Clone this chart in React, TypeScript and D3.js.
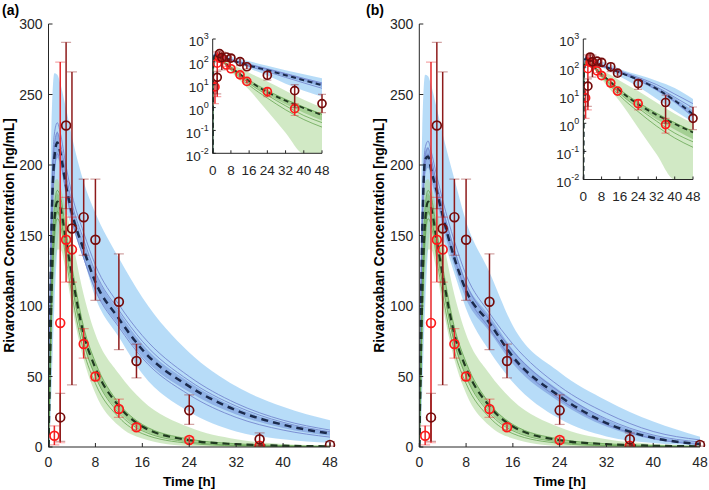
import React from 'react';
import * as d3 from 'd3';

// sampling times of the simulated curves [h]
const simTimes = [0, 0.25, 0.5, 1, 1.5, 2, 3, 4, 6, 8, 12, 16, 24, 32, 40, 48];

// ---- panel (a), blue model (dark red data) ----
const aBlueMedian = [0, 85, 150, 205, 216, 209, 185, 166, 140, 117, 91, 69, 43, 26, 15.8, 9.5];
const aBlueMidLo = [0, 60, 130, 190, 205, 200, 178, 160, 133, 111, 86, 64, 39, 23, 13.5, 8];
const aBlueMidHi = [0, 100, 165, 215, 224, 216, 192, 172, 145, 123, 96, 73, 46, 28, 17, 10.5];
const aBluePiLo = [0, 10, 40, 100, 140, 158, 165, 156, 133, 106, 78, 52, 25, 11, 5.5, 3];
const aBluePiHi = [0, 150, 228, 265, 264, 258, 240, 220, 188, 166, 134, 106, 67, 43, 28.6, 19];
const aBlueThin1 = [0, 100, 170, 222, 230, 223, 199, 179, 152, 129, 101, 79, 50, 31, 19, 12];
const aBlueThin2 = [0, 95, 162, 214, 223, 216, 193, 173, 147, 124, 97, 75, 47, 29, 17.5, 10.8];
const aBlueThin3 = [0, 70, 140, 195, 208, 203, 181, 161, 134, 111, 85, 63, 37, 21, 12, 7];

// ---- panel (b), blue model ----
const bBlueMedian = [0, 90, 150, 204, 206, 197, 181, 164, 134, 111, 88, 64, 36, 17, 6.5, 2.1];
const bBlueMidLo = [0, 70, 135, 192, 198, 190, 174, 157, 128, 105, 82, 59, 32, 14.5, 5.3, 1.6];
const bBlueMidHi = [0, 100, 160, 210, 213, 205, 188, 171, 141, 117, 93, 69, 40, 19.5, 8, 2.8];
const bBluePiLo = [0, 10, 40, 100, 140, 155, 158, 148, 123, 98, 68, 46, 20, 7.5, 2.8, 1.1];
const bBluePiHi = [0, 150, 225, 264, 263, 257, 240, 222, 190, 160, 124, 86, 53, 33, 18, 7.3];
const bBlueThin1 = [0, 105, 165, 212, 217, 210, 192, 175, 146, 122, 95, 73, 43, 24, 11, 5];
const bBlueThin2 = [0, 98, 158, 206, 212, 205, 186, 169, 140, 116, 90, 68, 39, 20, 8.5, 3.5];
const bBlueThin3 = [0, 90, 150, 200, 208, 200, 181, 163, 134, 110, 84, 62, 34, 16, 6, 1.7];

// ---- green model (red data), both panels ----
const greenMedian = [0, 55, 105, 160, 174, 170, 146, 122, 80, 56, 29, 14.5, 4.8, 2.0, 0.95, 0.47];
const greenMidLo = [0, 45, 95, 150, 165, 161, 137, 113, 73, 50, 25, 12, 3.8, 1.4, 0.6, 0.27];
const greenMidHi = [0, 62, 112, 167, 180, 176, 152, 127, 85, 60, 31, 16, 5.5, 2.3, 1.1, 0.55];
const greenPiLo = [0, 20, 60, 118, 140, 140, 124, 100, 62, 38, 15, 6, 0.7, 0.08, 0.01, 0.002];
const greenPiHi = [0, 80, 140, 188, 190, 185, 168, 148, 108, 80, 52, 33, 14, 5.5, 2.2, 1.0];
const greenThin1 = [0, 65, 115, 170, 182, 178, 153, 128, 85, 60, 31, 16, 5.6, 2.3, 1.05, 0.5];
const greenThin2 = [0, 50, 98, 152, 167, 163, 139, 115, 74, 50, 24, 11.5, 3.5, 1.2, 0.45, 0.22];
const greenThin3 = [0, 45, 90, 146, 162, 158, 133, 108, 68, 45, 21, 9.5, 2.6, 0.8, 0.3, 0.14];

// ---- observed data (mean with error bars) ----
const darkT = [2, 3, 4, 6, 8, 12, 15, 24, 36, 48];
const darkV = [21, 228, 155, 163, 147, 103, 61, 26, 5.5, 1.5];
const darkLo = [4, 169, 44, 136, 104, 69, 49, 16, 1, 0.6];
const darkHi = [38, 287, 266, 190, 190, 137, 73, 37, 10, 3.8];

const redT = [1, 2, 3, 4, 6, 8, 12, 15, 24, 36];
const redV = [8, 88, 147, 140, 73, 50, 27, 14, 5, 0.9];
const redLo = [1.5, 3, 117, 117, 63, 47, 21, 12, 3, 0.45];
const redHi = [15, 273, 177, 163, 84, 53, 34, 16, 7, 1.5];

// ticks
const xTicks = [0, 8, 16, 24, 32, 40, 48];
const yTicks = [0, 50, 100, 150, 200, 250, 300];
const logTicks = [3, 2, 1, 0, -1, -2];

type Curves = {
  piLo: number[];
  piHi: number[];
  midLo: number[];
  midHi: number[];
  thin: number[][];
  median: number[];
};

const aBlue: Curves = {
  piLo: aBluePiLo, piHi: aBluePiHi, midLo: aBlueMidLo, midHi: aBlueMidHi,
  thin: [aBlueThin1, aBlueThin2, aBlueThin3], median: aBlueMedian,
};
const bBlue: Curves = {
  piLo: bBluePiLo, piHi: bBluePiHi, midLo: bBlueMidLo, midHi: bBlueMidHi,
  thin: [bBlueThin1, bBlueThin2, bBlueThin3], median: bBlueMedian,
};
const green: Curves = {
  piLo: greenPiLo, piHi: greenPiHi, midLo: greenMidLo, midHi: greenMidHi,
  thin: [greenThin1, greenThin2, greenThin3], median: greenMedian,
};

const FONT = '"Liberation Sans", Arial, Helvetica, sans-serif';
const AXIS = '#262626';

type Scale = (v: number) => number;

function Models({ blue, xs, ys, inset }: { blue: Curves; xs: Scale; ys: Scale; inset?: boolean }) {
  const line = d3.line<number>()
    .x((_, i) => xs(simTimes[i]))
    .y(v => ys(v))
    .curve(d3.curveMonotoneX);
  const band = (lo: number[], hi: number[]) =>
    d3.area<number>()
      .x((_, i) => xs(simTimes[i]))
      .y0((_, i) => ys(lo[i]))
      .y1(v => ys(v))
      .curve(d3.curveMonotoneX)(hi) || '';

  return (
    <g>
      <path d={band(blue.piLo, blue.piHi)} fill="#7cc0f2" fillOpacity={0.55} />
      <path d={band(green.piLo, green.piHi)} fill="#a3d38c" fillOpacity={0.5} />
      <path d={band(blue.midLo, blue.midHi)} fill="#5a78cc" fillOpacity={0.42} />
      <path d={band(green.midLo, green.midHi)} fill="#62a848" fillOpacity={0.4} />
      {blue.thin.map((s, i) => (
        <path key={'bt' + i} d={line(s) || ''} fill="none" stroke="#7283cc" strokeWidth={1} strokeOpacity={0.85} />
      ))}
      {green.thin.map((s, i) => (
        <path key={'gt' + i} d={line(s) || ''} fill="none" stroke="#5c9f47" strokeWidth={0.9} strokeOpacity={0.8} />
      ))}
      <path d={line(blue.median) || ''} fill="none" stroke="#1b2a4c"
        strokeWidth={inset ? 2 : 2.5} strokeDasharray={inset ? '5,3.5' : '7,5'} />
      <path d={line(green.median) || ''} fill="none" stroke="#203a20"
        strokeWidth={inset ? 1.8 : 2.2} strokeDasharray={inset ? '5,3.5' : '7,5'} />
    </g>
  );
}

function Obs({ xs, ys, capW, r }: { xs: Scale; ys: Scale; capW: number; r: number }) {
  const group = (t: number[], v: number[], lo: number[], hi: number[], col: string, mark: string, key: string) => (
    <g key={key}>
      {t.map((tt, i) => {
        const x = xs(tt);
        return (
          <g key={i}>
            <line x1={x} x2={x} y1={ys(lo[i])} y2={ys(hi[i])} stroke={col} strokeWidth={1.5} />
            <line x1={x - capW / 2} x2={x + capW / 2} y1={ys(lo[i])} y2={ys(lo[i])} stroke={col} strokeWidth={1.2} strokeOpacity={0.4} />
            <line x1={x - capW / 2} x2={x + capW / 2} y1={ys(hi[i])} y2={ys(hi[i])} stroke={col} strokeWidth={1.2} strokeOpacity={0.4} />
            <circle cx={x} cy={ys(v[i])} r={r} fill="none" stroke={mark} strokeWidth={1.7} />
          </g>
        );
      })}
    </g>
  );
  return (
    <g>
      {group(redT, redV, redLo, redHi, '#e8262a', '#ff1a1a', 'red')}
      {group(darkT, darkV, darkLo, darkHi, '#8e1b1b', '#740b0b', 'dark')}
    </g>
  );
}

type Box = { x0: number; x1: number; y0: number; y1: number };

function Panel({ tag, tagX, blue, main, inset, id }: { tag: string; tagX: number; blue: Curves; main: Box; inset: Box; id: string }) {
  const xs = d3.scaleLinear().domain([0, 48]).range([main.x0, main.x1]);
  const ys = d3.scaleLinear().domain([0, 300]).range([main.y0, main.y1]);
  const xi = d3.scaleLinear().domain([0, 48]).range([inset.x0, inset.x1]);
  const yl = d3.scaleLog().domain([0.01, 1000]).range([inset.y0, inset.y1]);
  const yi = (v: number) => yl(Math.max(v, 0.01));

  return (
    <g fontFamily={FONT}>
      <defs>
        <clipPath id={'main' + id}>
          <rect x={main.x0} y={main.y1} width={main.x1 - main.x0 + 6} height={main.y0 - main.y1} />
        </clipPath>
        <clipPath id={'ins' + id}>
          <rect x={inset.x0} y={inset.y1} width={inset.x1 - inset.x0 + 6} height={inset.y0 - inset.y1} />
        </clipPath>
      </defs>

      <text x={tagX} y={15} fontSize={14} fontWeight="bold" fill="#000">{tag}</text>

      {/* main linear plot */}
      <g clipPath={`url(#main${id})`}>
        <Models blue={blue} xs={xs} ys={ys} />
        <Obs xs={xs} ys={ys} capW={10} r={4.4} />
      </g>
      <line x1={main.x0} x2={main.x1} y1={main.y0} y2={main.y0} stroke={AXIS} />
      <line x1={main.x0} x2={main.x0} y1={main.y0} y2={main.y1} stroke={AXIS} />
      {xTicks.map(t => (
        <g key={'x' + t}>
          <line x1={xs(t)} x2={xs(t)} y1={main.y0} y2={main.y0 - 4} stroke={AXIS} />
          <text x={xs(t)} y={main.y0 + 20} fontSize={14} textAnchor="middle" fill={AXIS}>{t}</text>
        </g>
      ))}
      {yTicks.map(t => (
        <g key={'y' + t}>
          <line x1={main.x0} x2={main.x0 + 4} y1={ys(t)} y2={ys(t)} stroke={AXIS} />
          <text x={main.x0 - 6} y={ys(t)} dy="0.36em" fontSize={14} textAnchor="end" fill={AXIS}>{t}</text>
        </g>
      ))}
      <text x={(main.x0 + main.x1) / 2} y={486} fontSize={13.5} fontWeight="bold" textAnchor="middle" fill="#000">Time [h]</text>
      <text transform={`translate(${main.x0 - 35},${235.5}) rotate(-90)`} fontSize={13.8} fontWeight="bold" textAnchor="middle" fill="#000">
        Rivaroxaban Concentration [ng/mL]
      </text>

      {/* log inset */}
      <g clipPath={`url(#ins${id})`}>
        <Models blue={blue} xs={xi} ys={yi} inset />
        <Obs xs={xi} ys={yi} capW={8} r={4} />
      </g>
      <line x1={inset.x0} x2={inset.x1} y1={inset.y0} y2={inset.y0} stroke={AXIS} />
      <line x1={inset.x0} x2={inset.x0} y1={inset.y0} y2={inset.y1} stroke={AXIS} />
      {xTicks.map(t => (
        <g key={'ix' + t}>
          <line x1={xi(t)} x2={xi(t)} y1={inset.y0} y2={inset.y0 - 3} stroke={AXIS} />
          <text x={xi(t)} y={inset.y0 + 21.5} fontSize={13.5} textAnchor="middle" fill={AXIS}>{t}</text>
        </g>
      ))}
      {logTicks.map(e => (
        <g key={'iy' + e}>
          <line x1={inset.x0} x2={inset.x0 + 3} y1={yl(Math.pow(10, e))} y2={yl(Math.pow(10, e))} stroke={AXIS} />
          <text x={inset.x0 - 4} y={yl(Math.pow(10, e))} dy="0.55em" fontSize={13.5} textAnchor="end" fill={AXIS}>
            10<tspan dy="-7" fontSize={9}>{e}</tspan>
          </text>
        </g>
      ))}
    </g>
  );
}

export default function App() {
  return (
    <svg width={709} height={490} style={{ position: 'absolute', left: 0, top: 0, background: '#fff' }}>
      <Panel id="a" tag="(a)" tagX={2} blue={aBlue}
        main={{ x0: 48.5, x1: 330, y0: 447, y1: 24 }}
        inset={{ x0: 212.7, x1: 322, y0: 153.3, y1: 39 }} />
      <Panel id="b" tag="(b)" tagX={366} blue={bBlue}
        main={{ x0: 419.3, x1: 700, y0: 447, y1: 24 }}
        inset={{ x0: 583.3, x1: 693, y0: 179.5, y1: 39 }} />
    </svg>
  );
}
